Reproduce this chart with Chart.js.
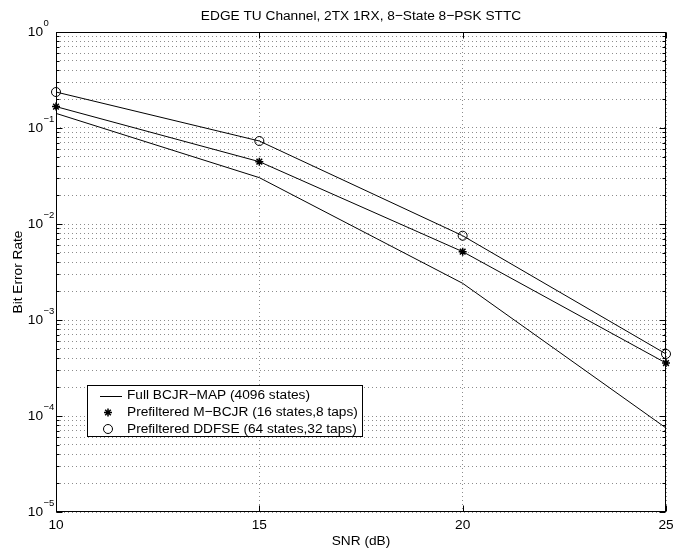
<!DOCTYPE html>
<html>
<head>
<meta charset="utf-8">
<script src="https://cdn.jsdelivr.net/npm/chart.js@4/dist/chart.umd.min.js"></script>
<style>
  body { margin: 0; background: #fff; }
  canvas { display: block; }
</style>
</head>
<body>
<canvas id="berChart" width="673" height="550"></canvas>
<script>
// valeurs
const snr = [10, 15, 20, 25];
const berFull = [0.142, 0.0304, 0.00241, 7.5e-5];
const berMBCJR = [0.167, 0.0446, 0.00515, 3.56e-4];
const berDDFSE = [0.237, 0.0732, 0.00755, 4.43e-4];
const seriesLabels = [
    "Full BCJR\u2212MAP (4096 states)",
    "Prefiltered M\u2212BCJR (16 states,8 taps)",
    "Prefiltered DDFSE (64 states,32 taps)",
];
const chartTitle = "EDGE TU Channel, 2TX 1RX, 8\u2212State 8\u2212PSK STTC";
const decades = [0, -1, -2, -3, -4, -5];
const xTicks = [10, 15, 20, 25];

const fontFam = "'Liberation Sans', Arial, Helvetica, sans-serif";
const fontSize = 13.7;
const gridColor = "rgba(0,0,0,0.45)";

function toPoints(ys) {
    return snr.map((x, i) => ({ x: x, y: ys[i] }));
}

// titre centré sur la zone du graphique, cadre, graduations vers l'intérieur, étiquettes 10^n et légende
const matlabPlugin = {
    id: "matlab",
    afterDatasetsDraw(chart) {
        const ctx = chart.ctx;
        const a = chart.chartArea;
        const xs = chart.scales.x;
        const ys = chart.scales.y;
        ctx.save();
        ctx.strokeStyle = "#000";
        ctx.fillStyle = "#000";
        ctx.lineWidth = 1;
        ctx.setLineDash([]);

        ctx.font = fontSize + "px " + fontFam;
        ctx.textAlign = "center";
        ctx.textBaseline = "middle";
        ctx.fillText(chartTitle, (a.left + a.right) / 2, 16.5);

        const L = Math.round(a.left) + 0.5, R = Math.round(a.right) - 0.5;
        const T = Math.round(a.top) + 0.5, B = Math.round(a.bottom) - 0.5;
        ctx.beginPath();
        // graduations y
        ys.ticks.forEach(t => {
            const py = Math.round(ys.getPixelForValue(t.value)) + 0.5;
            const m = Math.abs(Math.log10(t.value) - Math.round(Math.log10(t.value))) < 1e-9;
            const len = m ? 6 : 3;
            ctx.moveTo(L, py); ctx.lineTo(L + len, py);
            ctx.moveTo(R, py); ctx.lineTo(R - len, py);
        });
        // graduations x
        xTicks.forEach(v => {
            const px = Math.round(xs.getPixelForValue(v)) + 0.5;
            ctx.moveTo(px, B); ctx.lineTo(px, B - 6);
            ctx.moveTo(px, T); ctx.lineTo(px, T + 6);
        });
        ctx.stroke();
        ctx.strokeRect(L, T, R - L, B - T);

        // étiquettes de l'axe y
        decades.forEach(e => {
            const py = ys.getPixelForValue(Math.pow(10, e));
            ctx.font = fontSize + "px " + fontFam;
            ctx.textAlign = "right";
            ctx.textBaseline = "middle";
            ctx.fillText("10", 43, py);
            ctx.font = "9.5px " + fontFam;
            ctx.textAlign = "left";
            ctx.fillText(e === 0 ? "0" : "\u2212" + (-e), 43.5, py - 8.5);
        });

        // légende
        const bx = 87.5, by = 385.5, bw = 275, bh = 51;
        ctx.fillStyle = "#fff";
        ctx.fillRect(bx, by, bw, bh);
        ctx.strokeRect(bx, by, bw, bh);
        const rows = [395.7, 412.5, 429];
        chart.data.datasets.forEach((ds, i) => {
            const ry = rows[i];
            ctx.font = fontSize + "px " + fontFam;
            ctx.textAlign = "left";
            ctx.textBaseline = "middle";
            ctx.fillStyle = "#000";
            ctx.fillText(ds.label, 127, ry);
            if (i === 0) {
                ctx.beginPath();
                ctx.moveTo(100, Math.round(ry) + 0.5);
                ctx.lineTo(122, Math.round(ry) + 0.5);
                ctx.stroke();
            } else {
                ctx.lineWidth = ds.pointBorderWidth;
                ctx.fillStyle = ds.pointBackgroundColor;
                Chart.helpers.drawPoint(ctx, {
                    pointStyle: ds.pointStyle,
                    radius: ds.pointRadius,
                    rotation: 0,
                    borderWidth: ds.pointBorderWidth,
                }, 108, ry);
                ctx.lineWidth = 1;
            }
        });
        ctx.restore();
    },
};

let berChartCan = document.getElementById("berChart").getContext("2d");
var berChart = new Chart(berChartCan, {
    type: "line",
    data: {
        datasets: [{
            label: seriesLabels[0],
            data: toPoints(berFull),
            borderColor: "#000",
            borderWidth: 1,
            pointRadius: 0,
            pointStyle: "line",
            pointBorderWidth: 1,
            fill: false,
            clip: 8,
        }, {
            label: seriesLabels[1],
            data: toPoints(berMBCJR),
            borderColor: "#000",
            borderWidth: 1,
            pointStyle: "star",
            pointRadius: 4,
            pointBorderColor: "#000",
            pointBackgroundColor: "#000",
            pointBorderWidth: 1.5,
            fill: false,
            clip: 8,
        }, {
            label: seriesLabels[2],
            data: toPoints(berDDFSE),
            borderColor: "#000",
            borderWidth: 1,
            pointStyle: "circle",
            pointRadius: 4.5,
            pointBorderColor: "#000",
            pointBackgroundColor: "rgba(255,255,255,0)",
            pointBorderWidth: 1,
            fill: false,
            clip: 8,
        }, ],
    },
    options: {
        responsive: false,
        animation: false,
        devicePixelRatio: 1,
        layout: {
            padding: { left: 0, right: 7, top: 32, bottom: 0 },
        },
        scales: {
            x: {
                type: "linear",
                min: 10,
                max: 25,
                afterBuildTicks: s => { s.ticks = xTicks.map(v => ({ value: v })); },
                afterFit: s => { s.height = 38; s.paddingLeft = 0; s.paddingRight = 0; },
                ticks: {
                    color: "#000",
                    padding: 5,
                    font: { family: fontFam, size: fontSize },
                    maxRotation: 0,
                },
                grid: {
                    color: gridColor,
                    drawTicks: false,
                    lineWidth: 1,
                },
                border: { display: false, dash: [1, 3] },
                title: {
                    text: "SNR (dB)",
                    display: true,
                    color: "#000",
                    font: { family: fontFam, size: fontSize },
                    padding: { top: 0, bottom: 1 },
                },
            },
            y: {
                type: "logarithmic",
                min: 1e-5,
                max: 1,
                afterBuildTicks: s => {
                    const t = [];
                    for (let e = -5; e < 0; e++) {
                        for (let m = 1; m <= 9; m++) t.push({ value: m * Math.pow(10, e) });
                    }
                    t.push({ value: 1 });
                    s.ticks = t;
                },
                afterFit: s => { s.width = 56; s.paddingTop = 0; s.paddingBottom = 0; },
                ticks: { display: false },
                grid: {
                    color: gridColor,
                    drawTicks: false,
                    lineWidth: 1,
                },
                border: { display: false, dash: [1, 3] },
                title: {
                    text: "Bit Error Rate",
                    display: true,
                    color: "#000",
                    font: { family: fontFam, size: fontSize },
                    padding: { top: 10, bottom: 0 },
                },
            },
        },
        plugins: {
            legend: { display: false },
            tooltip: { enabled: false },
            title: { display: false },
        },
    },
    plugins: [matlabPlugin],
});
</script>
</body>
</html>
